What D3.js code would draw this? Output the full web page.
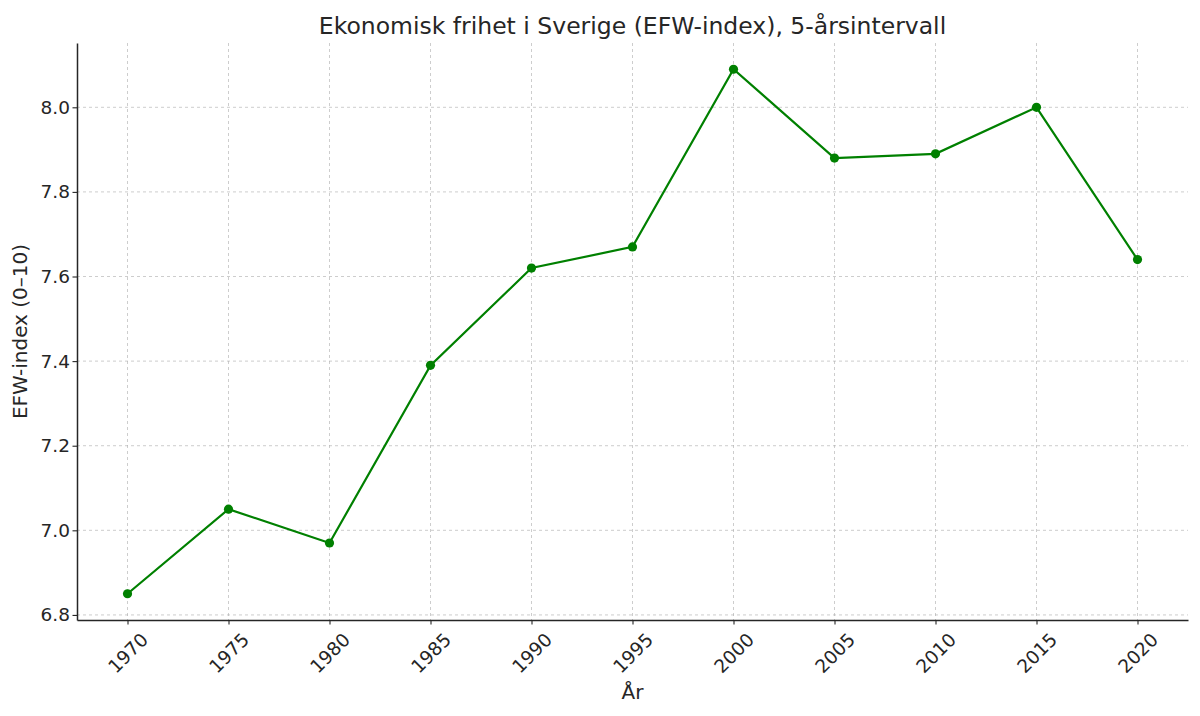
<!DOCTYPE html>
<html>
<head>
<meta charset="utf-8">
<script src="https://cdn.jsdelivr.net/npm/d3@7"></script>
<style>
  body { margin: 0; background: #fff; }
  text { font-family: "DejaVu Sans", sans-serif; fill: #262626; }
</style>
</head>
<body>
<div id="chart"></div>
<script>
const years = [1970, 1975, 1980, 1985, 1990, 1995, 2000, 2005, 2010, 2015, 2020];
const efwValues = [6.85, 7.05, 6.97, 7.39, 7.62, 7.67, 8.09, 7.88, 7.89, 8.00, 7.64];
const yTicks = [6.8, 7.0, 7.2, 7.4, 7.6, 7.8, 8.0];

const width = 1200, height = 716;
const margin = { top: 43, right: 12, bottom: 96, left: 77 };
const innerW = width - margin.left - margin.right;
const innerH = height - margin.top - margin.bottom;

const data = years.map((y, i) => ({ year: y, value: efwValues[i] }));

const svg = d3.select("#chart").append("svg")
    .attr("width", width)
    .attr("height", height);

const g = svg.append("g")
    .attr("transform", `translate(${margin.left},${margin.top})`);

// matplotlib-style 5% margins
const xPad = (d3.max(years) - d3.min(years)) * 0.05;
const yPad = (d3.max(efwValues) - d3.min(efwValues)) * 0.05;

const x = d3.scaleLinear()
    .domain([d3.min(years) - xPad, d3.max(years) + xPad])
    .range([0, innerW]);

const y = d3.scaleLinear()
    .domain([d3.min(efwValues) - yPad, d3.max(efwValues) + yPad])
    .range([innerH, 0]);

// grid
g.append("g").selectAll("line")
    .data(years)
    .enter().append("line")
    .attr("x1", d => x(d)).attr("x2", d => x(d))
    .attr("y1", 0).attr("y2", innerH)
    .attr("stroke", "#b0b0b0")
    .attr("stroke-opacity", 0.7)
    .attr("stroke-dasharray", "3,3")
    .attr("stroke-width", 0.9);

g.append("g").selectAll("line")
    .data(yTicks)
    .enter().append("line")
    .attr("x1", 0).attr("x2", innerW)
    .attr("y1", d => y(d)).attr("y2", d => y(d))
    .attr("stroke", "#b0b0b0")
    .attr("stroke-opacity", 0.7)
    .attr("stroke-dasharray", "3,3")
    .attr("stroke-width", 0.9);

// axes
const xAxis = g.append("g")
    .attr("transform", `translate(0,${innerH})`)
    .call(d3.axisBottom(x).tickValues(years).tickFormat(d3.format("d")).tickSize(4.5).tickSizeOuter(0));

xAxis.selectAll("text")
    .style("font-size", "18.5px")
    .attr("text-anchor", "middle")
    .attr("dy", null)
    .attr("dominant-baseline", "central")
    .attr("y", 33)
    .attr("transform", "rotate(-45,0,33)");

const yAxis = g.append("g")
    .call(d3.axisLeft(y).tickValues(yTicks).tickFormat(d3.format(".1f")).tickSize(4.5).tickSizeOuter(0));

yAxis.selectAll("text").style("font-size", "18.5px").attr("x", -7);

[xAxis, yAxis].forEach(a => {
    a.select(".domain").attr("stroke", "#262626").attr("stroke-width", 1.5);
    a.selectAll(".tick line").attr("stroke", "#262626").attr("stroke-width", 1.1);
    a.selectAll("text").style("fill", "#262626");
});

// line + markers
const line = d3.line()
    .x(d => x(d.year))
    .y(d => y(d.value));

g.append("path")
    .datum(data)
    .attr("fill", "none")
    .attr("stroke", "#008000")
    .attr("stroke-width", 2.2)
    .attr("d", line);

g.selectAll("circle")
    .data(data)
    .enter().append("circle")
    .attr("cx", d => x(d.year))
    .attr("cy", d => y(d.value))
    .attr("r", 4.6)
    .attr("fill", "#008000");

// titles
svg.append("text")
    .attr("x", margin.left + innerW / 2)
    .attr("y", 34)
    .attr("text-anchor", "middle")
    .style("font-size", "23.5px")
    .text("Ekonomisk frihet i Sverige (EFW-index), 5-årsintervall");

svg.append("text")
    .attr("x", margin.left + innerW / 2)
    .attr("y", 699)
    .attr("text-anchor", "middle")
    .style("font-size", "20px")
    .text("År");

svg.append("text")
    .attr("transform", `translate(27,${margin.top + innerH / 2}) rotate(-90)`)
    .attr("text-anchor", "middle")
    .style("font-size", "20px")
    .text("EFW-index (0–10)");
</script>
</body>
</html>
